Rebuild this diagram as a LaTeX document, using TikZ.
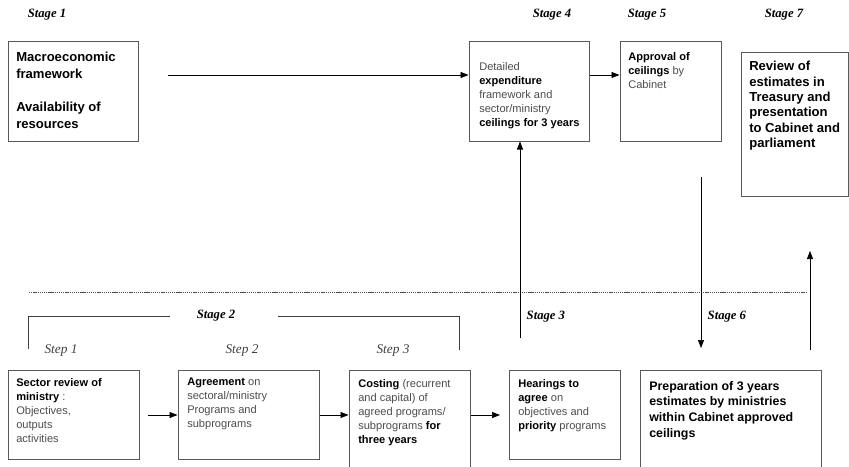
\documentclass[tikz,border=0pt]{standalone}
\usepackage{fontspec}
\setmainfont{Liberation Sans}
\newfontfamily\stagefont{Liberation Serif}
\usetikzlibrary{arrows.meta,fit}

\newcommand{\bfblack}[1]{\textcolor{black}{\textbf{#1}}}

\tikzset{
	box/.style = {draw=black!65, line width=0.75pt, inner sep=0pt},
	txt/.style = {anchor=north west, inner sep=0pt, align=left, text=black!70, font=\fontsize{8.3}{10.5}\selectfont},
	bigtxt/.style = {anchor=north west, inner sep=0pt, align=left, font=\fontsize{9.8}{11.5}\selectfont\bfseries},
	stagelbl/.style = {font=\stagefont\fontsize{9.5}{11}\selectfont\bfseries\itshape},
	steplbl/.style = {text=black!75, font=\stagefont\fontsize{10}{12}\selectfont\itshape},
	arr/.style = {line width=0.5pt, -{Triangle[length=6pt, width=4.5pt]}},
	sepline/.style = {draw=black!70, line width=0.75pt, dash pattern=on 1pt off 0.6pt}
}

\begin{document}
\begin{tikzpicture}[x=0.75pt, y=-0.75pt]
	\useasboundingbox (0,0) rectangle (849,467);

	\node [stagelbl] (st1) at (47,15) {Stage 1};
	\node [stagelbl] (st4) at (552,15) {Stage 4};
	\node [stagelbl] (st5) at (647,15) {Stage 5};
	\node [stagelbl] (st7) at (784,15) {Stage 7};

	\node [box, fit={(8,42) (138,141)}] (macro) {};
	\node [bigtxt, font=\fontsize{9.8}{12.5}\selectfont\bfseries] (macrotxt) at (16,52) {Macroeconomic\\framework\\[12.5pt]Availability of\\resources};

	\node [box, fit={(469,42) (589,141)}] (detailed) {};
	\node [txt] (detailedtxt) at (479,62) {Detailed\\\bfblack{expenditure}\\framework and\\sector/ministry\\\bfblack{ceilings for 3 years}};

	\node [box, fit={(620,42) (721,141)}] (approval) {};
	\node [txt] (approvaltxt) at (628,52) {\bfblack{Approval of}\\\bfblack{ceilings} by\\Cabinet};

	\node [box, fit={(741,53) (848,196)}] (review) {};
	\node [bigtxt] (reviewtxt) at (749,61) {Review of\\estimates in\\Treasury and\\presentation\\to Cabinet and\\parliament};

	\coordinate (macroout) at (168,75);
	\draw [arr] (macroout) -- (macroout -| detailed.west);
	\draw [arr] (detailed.east |- macroout) -- (approval.west |- macroout);

	\draw [sepline] (29,292) -- (807,292);

	\draw [draw=black!75, line width=0.75pt] (28,349) -- (28,316) -- (170,316);
	\draw [draw=black!75, line width=0.75pt] (278,316) -- (459,316) -- (459,350);
	\node [stagelbl] (st2) at (216,316) {Stage 2};

	\node [steplbl] (sp1) at (61,351) {Step 1};
	\node [steplbl] (sp2) at (242,351) {Step 2};
	\node [steplbl] (sp3) at (393,351) {Step 3};

	\node [box, fit={(8,370) (139,459)}] (sector) {};
	\node [txt] (sectortxt) at (16,378) {\bfblack{Sector review of}\\\bfblack{ministry} :\\Objectives,\\outputs\\activities};

	\node [box, fit={(178,370) (319,459)}] (agreement) {};
	\node [txt] (agreementtxt) at (187,378) {\bfblack{Agreement} on\\sectoral/ministry\\Programs and\\subprograms};

	\node [box, fit={(349,370) (470,480)}] (costing) {};
	\node [txt] (costingtxt) at (358,379) {\bfblack{Costing} (recurrent\\and capital) of\\agreed programs/\\subprograms \bfblack{for}\\\bfblack{three years}};

	\node [box, fit={(509,370) (620,459)}] (hearings) {};
	\node [txt] (hearingstxt) at (518,379) {\bfblack{Hearings to}\\\bfblack{agree} on\\objectives and\\\bfblack{priority} programs};

	\node [box, fit={(640,370) (821,480)}] (preparation) {};
	\node [bigtxt, font=\fontsize{9.3}{11.7}\selectfont\bfseries] (preparationtxt) at (649,381) {Preparation of 3 years\\estimates by ministries\\within Cabinet approved\\ceilings};

	\coordinate (sectorout) at (148,415);
	\coordinate (hearingsin) at (500,415);
	\draw [arr] (sectorout) -- (sectorout -| agreement.west);
	\draw [arr] (agreement.east |- sectorout) -- (costing.west |- sectorout);
	\draw [arr] (costing.east |- sectorout) -- (hearingsin);

	\coordinate (s3start) at (520,338);
	\draw [arr] (s3start) -- (s3start |- detailed.south);
	\node [stagelbl, anchor=west] (st3) at (522,317) {Stage 3};

	\coordinate (s6start) at (701,177);
	\coordinate (s6end) at (701,348);
	\draw [arr] (s6start) -- (s6end);
	\node [stagelbl, anchor=west] (st6) at (703,317) {Stage 6};

	\coordinate (s7start) at (810,350);
	\coordinate (s7end) at (810,251);
	\draw [arr] (s7start) -- (s7end);
\end{tikzpicture}
\end{document}
